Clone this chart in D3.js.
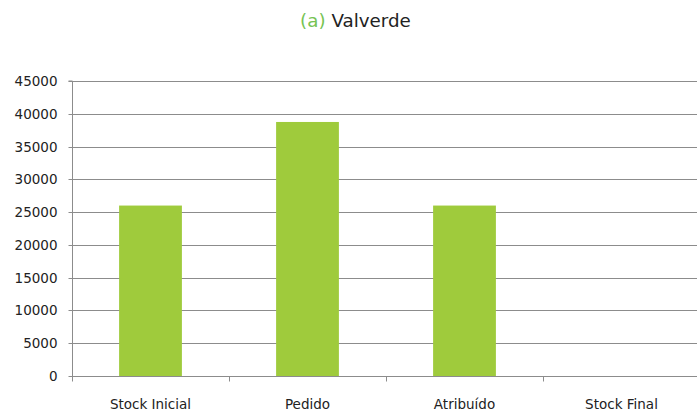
<!DOCTYPE html>
<html>
<head>
<meta charset="UTF-8">
<script src="https://d3js.org/d3.v7.min.js"></script>
<style>
  body { margin: 0; background: #fff; }
  text { font-family: "DejaVu Sans", sans-serif; }
</style>
</head>
<body>
<svg></svg>
<script>
const categories = ["Stock Inicial", "Pedido", "Atribuído", "Stock Final"];
const values = [26000, 38750, 26000, 0];
const yTicks = [0, 5000, 10000, 15000, 20000, 25000, 30000, 35000, 40000, 45000];

const width = 697, height = 411;
const margin = {top: 81, right: -3, bottom: 35, left: 72};

const svg = d3.select("svg").attr("width", width).attr("height", height);

const x = d3.scaleBand()
  .domain(categories)
  .range([margin.left, width - margin.right])
  .paddingInner(0.6).paddingOuter(0.3);

const y = d3.scaleLinear()
  .domain([0, 45000])
  .range([height - margin.bottom, margin.top]);

// gridlines
svg.append("g")
  .selectAll("line")
  .data(yTicks)
  .join("line")
    .attr("x1", margin.left)
    .attr("x2", width)
    .attr("y1", d => Math.round(y(d)) + 0.5)
    .attr("y2", d => Math.round(y(d)) + 0.5)
    .attr("stroke", "#8c8c8c");

// bars
svg.append("g")
  .selectAll("rect")
  .data(values)
  .join("rect")
    .attr("x", (d, i) => x(categories[i]))
    .attr("y", d => y(d))
    .attr("width", x.bandwidth())
    .attr("height", d => y(0) - y(d))
    .attr("fill", "#9fcb3c");

// y axis
const yAxis = svg.append("g")
  .attr("transform", `translate(${margin.left + 0.5},0)`)
  .call(d3.axisLeft(y).tickValues(yTicks).tickSize(4).tickPadding(11).tickFormat(d3.format("d")));
yAxis.select(".domain").attr("stroke", "#8c8c8c").attr("d", `M-4,${y(45000)}H0V${y(0)}`);
yAxis.selectAll(".tick line").attr("stroke", "#8c8c8c");
yAxis.selectAll(".tick text").attr("font-size", 13.5).attr("fill", "#222");
yAxis.selectAll(".tick").attr("transform", d => `translate(0,${Math.round(y(d)) + 0.5})`);

// x axis
const step = (width - margin.right - margin.left) / categories.length;
const xg = svg.append("g").attr("transform", `translate(0,${Math.round(y(0)) + 0.5})`);
xg.selectAll("line.tk")
  .data(d3.range(categories.length + 1))
  .join("line")
    .attr("class", "tk")
    .attr("x1", i => Math.round(margin.left + i * step) + 0.5)
    .attr("x2", i => Math.round(margin.left + i * step) + 0.5)
    .attr("y1", 0).attr("y2", 5)
    .attr("stroke", "#8c8c8c");
xg.selectAll("text")
  .data(categories)
  .join("text")
    .attr("x", d => x(d) + x.bandwidth() / 2)
    .attr("y", 32)
    .attr("text-anchor", "middle")
    .attr("font-size", 13.5)
    .attr("fill", "#222")
    .text(d => d);

// title
const title = svg.append("text")
  .attr("x", width / 2 + 7)
  .attr("y", 27)
  .attr("text-anchor", "middle")
  .attr("font-size", 18.3)
  .attr("fill", "#222");
title.append("tspan").attr("fill", "#76c353").text("(a)");
title.append("tspan").text(" Valverde");
</script>
</body>
</html>
